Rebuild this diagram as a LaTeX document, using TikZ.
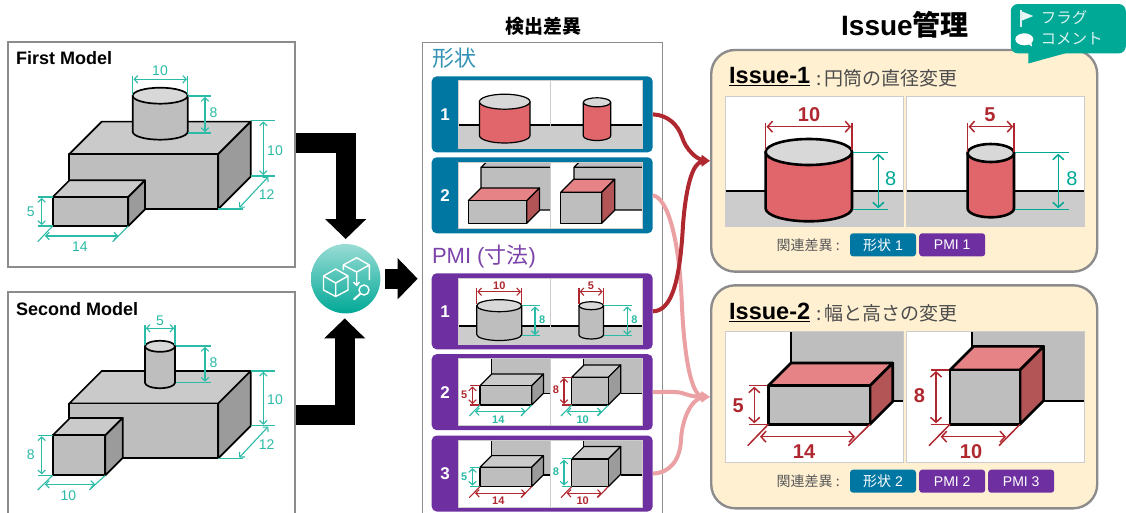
\documentclass[tikz,border=0pt]{standalone}
\usepackage{fontspec}
\setmainfont{Liberation Sans}
\newfontfamily\jp{Noto Sans CJK JP}
\usetikzlibrary{arrows.meta,calc}

\definecolor{shapeblue}{HTML}{0077A3}
\definecolor{pmipurple}{HTML}{6E2FA0}
\definecolor{dimteal}{HTML}{2BBBA6}
\definecolor{darkteal}{HTML}{00A896}
\definecolor{dimred}{HTML}{B0282F}
\definecolor{linkpink}{HTML}{EBA1A4}
\definecolor{cream}{HTML}{FFF0D2}
\definecolor{framegray}{HTML}{8C8C8C}
\definecolor{fronta}{HTML}{BEBEBE}
\definecolor{topa}{HTML}{CACACA}
\definecolor{sidea}{HTML}{9B9B9B}
\definecolor{capa}{HTML}{D8D8D8}
\definecolor{floora}{HTML}{CCCCCC}
\definecolor{redbody}{HTML}{E0666B}
\definecolor{redtop}{HTML}{E58386}
\definecolor{redside}{HTML}{B35456}

\newcommand{\fsz}[1]{\fontsize{#1}{#1}\selectfont}

\tikzset{
  part/.style={draw=black,line width=1.7pt,line join=round},
  thinpart/.style={part/.style={draw=black,line width=1.2pt,line join=round}},
  fatpart/.style={part/.style={draw=black,line width=2.6pt,line join=round}},
  dimline/.style={draw=#1,line width=1.1pt,>={Straight Barb[length=3.5pt,width=7.5pt]}},
  fatdim/.style={draw=#1,line width=1.5pt,>={Straight Barb[length=5pt,width=11pt]}},
  modelbox/.style={draw=framegray,line width=1.3pt,fill=white,minimum width=287pt,inner sep=0pt},
  rowbox/.style={rounded corners=5pt,minimum width=221pt,minimum height=76pt,inner sep=0pt},
  issuebox/.style={draw=framegray,line width=2.4pt,fill=cream,rounded corners=24pt,minimum width=386pt,inner sep=0pt},
  tagbox/.style={rounded corners=3pt,minimum width=66pt,minimum height=23pt,inner sep=0pt,text=white,font=\fsz{14}},
  bigarrow/.style={line width=20pt,-{Triangle[width=40pt,length=20pt]}},
  linkdark/.style={draw=dimred,line width=4pt,-{Triangle[width=9pt,length=9pt]}},
  linklight/.style={draw=linkpink,line width=4pt,-{Triangle[width=9pt,length=9pt]}},
  panelline/.style={draw=floora,line width=.8pt}
}

% front rectangle x1 y1 x2 y2, depth, then top / side / front colours
\newcommand{\isoblock}[8]{
  \path[part,fill=#6] (#1,#2) -- ({#1+#5},{#2-#5}) -- ({#3+#5},{#2-#5}) -- (#3,#2) -- cycle;
  \path[part,fill=#7] (#3,#2) -- ({#3+#5},{#2-#5}) -- ({#3+#5},{#4-#5}) -- (#3,#4) -- cycle;
  \path[part,fill=#8] (#1,#2) rectangle (#3,#4);
}
% centre x, half width, top y, bottom y, half height, colour
\newcommand{\cylpart}[6]{
  \path[part,fill=#6] ({#1-#2},#3) -- ({#1-#2},#4) arc [start angle=180,end angle=360,x radius=#2pt,y radius=#5pt] -- ({#1+#2},#3) -- cycle;
  \path[part,fill=capa] (#1,#3) ellipse [x radius=#2pt,y radius=#5pt];
}
\newcommand{\rowpanel}[5]{
  \node[rowbox,fill=#4] (#1) at (542.2,{(#2+#3)/2}) {};
  \node[text=white,font=\bfseries\fsz{17}] (#1num) at (445,{(#2+#3)/2}) {#5};
  \fill[white] (458,{#2+4.7}) rectangle (642.7,{#3-4.7});
}
\newcommand{\rowframe}[2]{
  \draw[panelline] (458,{#1+4.7}) rectangle (642.7,{#2-4.7}) (550,{#1+4.7}) -- (550,{#2-4.7});
}
% the two stepped details of a PMI row, with the colours of height and width
\newcommand{\pmisteps}[3]{
  \fill[fronta] (491.7,358.3) rectangle (550,393.3);
  \fill[fronta] (583.3,358.3) rectangle (642.7,393.3);
  \draw[part] (491.7,358.3) -- (491.7,374) (543.3,393.3) -- (550,393.3);
  \draw[part] (583.3,358.3) -- (583.3,365) (620.7,393.3) -- (642.7,393.3);
  \isoblock{480}{385.7}{531.7}{405}{11.7}{topa}{sidea}{fronta}
  \isoblock{571.7}{377.3}{608.3}{405}{12.4}{topa}{sidea}{fronta}
  \draw[dimline=#1] (470,385.7) -- (480,385.7) (470,405) -- (480,405);
  \draw[dimline=#1,<->] (472.5,386.5) -- (472.5,404);
  \node[text=#1,font=\bfseries\fsz{11}] (#3a) at (464.3,395) {5};
  \draw[dimline=#2] (480,405) -- (469.3,416) (531.7,405) -- (521,416);
  \draw[dimline=#2,<->] (475,411.7) -- (525.7,411.7);
  \node[text=#2,font=\bfseries\fsz{11}] (#3b) at (498.3,419.3) {14};
  \draw[dimline=#1] (561.7,377.3) -- (571.7,377.3) (561.7,405) -- (571.7,405);
  \draw[dimline=#1,<->] (564,378) -- (564,404);
  \node[text=#1,font=\bfseries\fsz{11}] (#3c) at (556,390) {8};
  \draw[dimline=#2] (571.7,405) -- (561,416) (608.3,405) -- (597.6,416);
  \draw[dimline=#2,<->] (566.7,411.7) -- (601.7,411.7);
  \node[text=#2,font=\bfseries\fsz{11}] (#3d) at (582.7,419.3) {10};
}

\begin{document}
\begin{tikzpicture}[x=1pt,y=-1pt]
\useasboundingbox (0,0) rectangle (1126,512);

% input models
\node[modelbox,minimum height=225pt] (firstbox) at (151.5,154.5) {};
\node[modelbox,minimum height=225pt] (secondbox) at (151.5,404.5) {};
\node[anchor=west,inner sep=0pt,font=\bfseries\fsz{18}] (firsttitle) at (16,58.5) {First Model};
\node[anchor=west,inner sep=0pt,font=\bfseries\fsz{18}] (secondtitle) at (16,309.5) {Second Model};

\isoblock{69.3}{154}{218.3}{209}{32.4}{topa}{sidea}{fronta}
\isoblock{52.7}{197}{128.3}{226}{16.7}{topa}{sidea}{fronta}
\cylpart{160.2}{27.5}{95.7}{131.7}{8}{fronta}
\draw[dimline=dimteal] (132.7,76) -- (132.7,95) (187.7,76) -- (187.7,95);
\draw[dimline=dimteal,<->] (133.5,79.3) -- (187,79.3);
\node[text=dimteal,font=\fsz{14}] (fdiam) at (160,71) {10};
\draw[dimline=dimteal] (188,96) -- (211,96) (188,133) -- (211,133);
\draw[dimline=dimteal,<->] (205,97) -- (205,132);
\node[text=dimteal,font=\fsz{14}] (fhigh) at (213.5,112.7) {8};
\draw[dimline=dimteal] (250.7,120.7) -- (275,120.7) (250.7,176) -- (275,176);
\draw[dimline=dimteal,<->] (263.3,121.5) -- (263.3,175);
\node[text=dimteal,font=\fsz{14}] (fheight) at (275,150.7) {10};
\draw[dimline=dimteal] (218.3,209) -- (242.7,209);
\draw[dimline=dimteal,<->] (268.3,176.7) -- (239.3,207.7);
\node[text=dimteal,font=\fsz{14}] (fdepth) at (266.7,195) {12};
\draw[dimline=dimteal] (38,197) -- (52.7,197) (38,226) -- (52.7,226);
\draw[dimline=dimteal,<->] (41.7,198) -- (41.7,225);
\node[text=dimteal,font=\fsz{14}] (fstep) at (30.7,211.7) {5};
\draw[dimline=dimteal] (52.7,226) -- (37.7,241.7) (128.3,226) -- (112.7,241.7);
\draw[dimline=dimteal,<->] (45,236) -- (118.3,236);
\node[text=dimteal,font=\fsz{14}] (fwide) at (80,246.7) {14};

\isoblock{69.3}{403.4}{218.3}{458.3}{32.4}{topa}{sidea}{fronta}
\isoblock{52.7}{435.3}{105.3}{475.3}{17.4}{topa}{sidea}{fronta}
\cylpart{160}{15}{346.3}{382.7}{5.5}{fronta}
\draw[dimline=dimteal] (145,325) -- (145,345) (175,325) -- (175,345);
\draw[dimline=dimteal,<->] (145.8,328.3) -- (174.2,328.3);
\node[text=dimteal,font=\fsz{14}] (sdiam) at (160,321) {5};
\draw[dimline=dimteal] (175.5,346) -- (211,346) (175.5,382.7) -- (211,382.7);
\draw[dimline=dimteal,<->] (205,347) -- (205,381.7);
\node[text=dimteal,font=\fsz{14}] (shigh) at (213.5,362.3) {8};
\draw[dimline=dimteal] (250.7,371) -- (275,371) (250.7,425.7) -- (275,425.7);
\draw[dimline=dimteal,<->] (263.3,371.8) -- (263.3,424.7);
\node[text=dimteal,font=\fsz{14}] (sheight) at (275,400) {10};
\draw[dimline=dimteal] (218.3,458.3) -- (242.7,458.3);
\draw[dimline=dimteal,<->] (268.3,426.5) -- (239.3,457.5);
\node[text=dimteal,font=\fsz{14}] (sdepth) at (266.7,445) {12};
\draw[dimline=dimteal] (38,435.3) -- (52.7,435.3) (38,475.3) -- (52.7,475.3);
\draw[dimline=dimteal,<->] (41.7,436.3) -- (41.7,474.3);
\node[text=dimteal,font=\fsz{14}] (sstep) at (30.7,454.3) {8};
\draw[dimline=dimteal] (52.7,475.3) -- (37.7,490) (105.3,475.3) -- (89.3,490);
\draw[dimline=dimteal,<->] (45,484.3) -- (95,484.3);
\node[text=dimteal,font=\fsz{14}] (swide) at (68.3,495.7) {10};

% compare icon
\node[circle,minimum size=69.4pt,inner sep=0pt,outer sep=5pt,top color=darkteal!40!white,middle color=darkteal,bottom color=darkteal] (compare) at (345.7,278.7) {};
\draw[white,line width=1.4pt,line join=round] (335.7,269) -- (348,276) -- (348,290) -- (335.7,296.5) -- (323.5,290) -- (323.5,276) -- cycle
  (323.5,276) -- (335.7,283) -- (348,276) (335.7,283) -- (335.7,296.5);
\draw[white,line width=1.4pt,line join=round] (343.3,265) -- (356.7,257.7) -- (369.3,265) -- (356.7,272) -- cycle
  (343.3,265) -- (343.3,270) (369.3,265) -- (369.3,280) (356.7,272) -- (356.7,285) (353.5,282) -- (356.7,285.5) -- (359.5,282);
\draw[white,line width=1.4pt] (364,290) circle (5pt);
\draw[white,line width=2pt,line cap=round] (360.3,293.7) -- (354,299.3);

% middle column
\node[modelbox,minimum width=239.6pt,minimum height=478pt] (diffbox) at (542.5,281.3) {};
\node[font=\bfseries\jp\fsz{19}] (difftitle) at (543,26) {検出差異};
\draw[bigarrow] (firstbox.east |- 0,142.5) -| (compare.north);
\draw[bigarrow] (secondbox.east |- 0,415) -| ([xshift=-1pt]compare.south);
\draw[bigarrow,shorten >=4.4pt] (compare.east) -- (compare.east -| diffbox.west);

\node[anchor=west,text=shapeblue!80!white,font=\jp\fsz{22}] (shapelabel) at (428.5,58) {形状};
\node[anchor=west,text=pmipurple!90!white,font=\fsz{22}] (pmilabel) at (428.5,256.5) {PMI ({\jp 寸法})};

\rowpanel{shapeone}{76}{152.7}{shapeblue}{1}
\fill[floora] (458,125) rectangle (642.7,148);
\draw[part] (458,125) -- (642.7,125);
\begin{scope}[thinpart]
\cylpart{504.7}{25.3}{101.7}{135.5}{7.5}{redbody}
\cylpart{597}{13.7}{102.3}{136}{4.5}{redbody}
\end{scope}
\rowframe{76}{152.7}

\rowpanel{shapetwo}{157.3}{233.3}{shapeblue}{2}
\fill[fronta] (486.7,162) -- (481,167.3) -- (481,210) -- (550,210) -- (550,162) -- cycle;
\fill[fronta] (579.3,162) -- (574,167.3) -- (574,210) -- (642.7,210) -- (642.7,162) -- cycle;
\begin{scope}[thinpart]
\draw[part] (486.7,162) -- (481,167.3) -- (481,195) (481,167.3) -- (550,167.3) (535,210) -- (550,210);
\draw[part] (579.3,162) -- (574,167.3) -- (574,185) (574,167.3) -- (642.7,167.3) (610,210) -- (642.7,210);
\isoblock{468.3}{200.7}{526.7}{223.3}{12.7}{redtop}{redside}{fronta}
\isoblock{560.7}{192.3}{601.7}{223.3}{13}{redtop}{redside}{fronta}
\end{scope}
\rowframe{157.3}{233.3}

\rowpanel{pmione}{273.3}{349.3}{pmipurple}{1}
\fill[floora] (458,326) rectangle (642.7,345);
\draw[line width=1.2pt] (458,326) -- (642.7,326);
\begin{scope}[thinpart]
\cylpart{499.2}{22.5}{305.7}{334.5}{6}{fronta}
\cylpart{591.2}{12.2}{305.7}{335}{4}{fronta}
\end{scope}
\draw[dimline=dimred] (476.7,288) -- (476.7,304) (521.7,288) -- (521.7,304);
\draw[dimline=dimred,<->] (477.3,291.7) -- (521,291.7);
\node[text=dimred,font=\bfseries\fsz{11}] (pmidiama) at (499.3,286) {10};
\draw[dimline=dimred] (579,288) -- (579,304) (603.3,288) -- (603.3,304);
\draw[dimline=dimred,<->] (579.6,291.7) -- (602.7,291.7);
\node[text=dimred,font=\bfseries\fsz{11}] (pmidiamb) at (591,286) {5};
\draw[dimline=dimteal] (522,305.7) -- (540,305.7) (522,335.7) -- (540,335.7);
\draw[dimline=dimteal,<->] (535,306.5) -- (535,335);
\node[text=dimteal,font=\bfseries\fsz{11}] (pmihigha) at (542.3,319.3) {8};
\draw[dimline=dimteal] (603.5,305.7) -- (632.3,305.7) (603.5,335.7) -- (632.3,335.7);
\draw[dimline=dimteal,<->] (627.3,306.5) -- (627.3,335);
\node[text=dimteal,font=\bfseries\fsz{11}] (pmihighb) at (634.3,319.3) {8};
\rowframe{273.3}{349.3}

\rowpanel{pmitwo}{354}{430.3}{pmipurple}{2}
\begin{scope}[thinpart]
\pmisteps{dimred}{dimteal}{rowtwo}
\end{scope}
\rowframe{354}{430.3}

\rowpanel{pmithree}{435.3}{511.7}{pmipurple}{3}
\begin{scope}[thinpart,shift={(0,81.6)}]
\pmisteps{dimteal}{dimred}{rowthree}
\end{scope}
\rowframe{435.3}{511.7}

% right column
\node[font=\bfseries\fsz{28}] (issuetitle) at (905,25) {Issue{\jp 管理}};
\node[issuebox,minimum height=221.7pt] (issueone) at (904.2,160.8) {};
\node[issuebox,minimum height=223pt] (issuetwo) at (904.2,396.8) {};

\draw[linkdark] (shapeone.east) .. controls (668,115) and (678,125) .. (682,137) .. controls (686,150) and (697,159) .. (issueone.west);
\draw[linklight] (shapetwo.east) .. controls (668,198) and (679,240) .. (681.7,300) .. controls (684,360) and (692,395) .. (issuetwo.west);
\draw[linkdark] (pmione.east) .. controls (672,311) and (680,280) .. (683,225) .. controls (686,185) and (693,163) .. (issueone.west);
\draw[linklight] (pmitwo.east) .. controls (668,392) and (678,391) .. (685,394) .. controls (692,396.5) and (700,397) .. (issuetwo.west);
\draw[linklight] (pmithree.east) .. controls (670,473) and (680,460) .. (681,440) .. controls (682,418) and (692,399) .. (issuetwo.west);

\node[rectangle,rounded corners=7pt,fill=darkteal,minimum width=115pt,minimum height=49.3pt,inner sep=0pt] (flagbox) at (1068.3,28.7) {};
\fill[darkteal] (1028.3,50) -- (1028.3,63.5) -- (1070,52) -- (1070,50) -- cycle;
\draw[white!85!darkteal,line width=1.1pt] (1021,10) -- (1021,27.3);
\fill[white!90!darkteal] (1022,11.5) -- (1033.3,16) -- (1022,20.5) -- cycle;
\fill[white] (1024.3,39.3) ellipse [x radius=9pt,y radius=6pt];
\fill[white] (1027,43) -- (1032,46.5) -- (1031,40) -- cycle;
\node[text=white!85!darkteal,font=\jp\fsz{15.5}] (flagtext) at (1064,18) {フラグ};
\node[text=white!85!darkteal,font=\jp\fsz{15.5}] (commenttext) at (1071.7,39) {コメント};

\node[anchor=west,inner sep=0pt,font=\bfseries\fsz{23.5}] (issueonename) at (729,77) {\underline{Issue-1}};
\node[anchor=west,inner sep=0pt,text=black!70,font=\jp\fsz{19}] (issueonetext) at (816,78) {:\,円筒の直径変更};
\draw[panelline,fill=white] (725.7,96.7) rectangle (903.3,226.7);
\draw[panelline,fill=white] (906.7,96.7) rectangle (1084.3,226.7);
\fill[floora] (725.7,191.3) rectangle (903.3,226.7) (906.7,191.3) rectangle (1084.3,226.7);
\begin{scope}[fatpart]
\draw[part,line width=2pt] (725.7,191.3) -- (903.3,191.3) (906.7,191.3) -- (1084.3,191.3);
\cylpart{808.8}{43.2}{152}{208.3}{13}{redbody}
\cylpart{990.8}{23.2}{153}{208.3}{9}{redbody}
\end{scope}
\draw[fatdim=dimred] (765.7,123) -- (765.7,150) (852,123) -- (852,150);
\draw[fatdim=dimred,<->] (766.5,126.7) -- (851.2,126.7);
\node[text=dimred,font=\bfseries\fsz{20}] (bigdiama) at (809,115) {10};
\draw[fatdim=dimred] (967.7,123) -- (967.7,152) (1014,123) -- (1014,152);
\draw[fatdim=dimred,<->] (968.5,126.7) -- (1013.2,126.7);
\node[text=dimred,font=\bfseries\fsz{20}] (bigdiamb) at (990,115) {5};
\draw[fatdim=darkteal] (853,152.7) -- (888.3,152.7) (853,209.3) -- (888.3,209.3);
\draw[fatdim=darkteal,<->] (878.3,153.7) -- (878.3,208.3);
\node[text=darkteal,font=\fsz{20}] (bighigha) at (890.7,178.3) {8};
\draw[fatdim=darkteal] (1015,152.7) -- (1069.3,152.7) (1015,209.3) -- (1069.3,209.3);
\draw[fatdim=darkteal,<->] (1058.3,153.7) -- (1058.3,208.3);
\node[text=darkteal,font=\fsz{20}] (bighighb) at (1072,178.3) {8};
\node[anchor=west,inner sep=0pt,text=black!65,font=\jp\fsz{14}] (relatedone) at (776.5,245) {関連差異 :};
\node[tagbox,fill=shapeblue] (tagshapeone) at (883,244.8) {{\jp 形状} 1};
\node[tagbox,fill=pmipurple] (tagpmione) at (952.2,244.8) {PMI 1};

\node[anchor=west,inner sep=0pt,font=\bfseries\fsz{23.5}] (issuetwoname) at (729,312.5) {\underline{Issue-2}};
\node[anchor=west,inner sep=0pt,text=black!70,font=\jp\fsz{19}] (issuetwotext) at (816,313.5) {:\,幅と高さの変更};
\draw[panelline,fill=white] (725.7,331.7) rectangle (903.3,462.3);
\draw[panelline,fill=white] (906.7,331.7) rectangle (1084.3,462.3);
\fill[fronta] (790.7,332) rectangle (903.3,401) (972.3,332) rectangle (1084.3,401);
\begin{scope}[fatpart]
\draw[part,line width=2pt] (790.7,332) -- (790.7,362.7) (892.7,401) -- (903.3,401);
\draw[part,line width=2pt] (972.3,332) -- (972.3,346.7) (1044,401) -- (1084.3,401);
\isoblock{768.3}{385.7}{870}{424.3}{22.7}{redtop}{redside}{fronta}
\isoblock{950}{370}{1020}{424.3}{23.6}{redtop}{redside}{fronta}
\end{scope}
\draw[fatdim=dimred] (749,385.7) -- (767,385.7) (749,424.3) -- (767,424.3);
\draw[fatdim=dimred,<->] (754.3,386.7) -- (754.3,423.3);
\node[text=dimred,font=\bfseries\fsz{20}] (bigstepa) at (738.3,405.7) {5};
\draw[fatdim=dimred] (768.3,424.3) -- (747.7,445.7) (870,424.3) -- (848.3,445.7);
\draw[fatdim=dimred,<->] (760,436.7) -- (855,436.7);
\node[text=dimred,font=\bfseries\fsz{20}] (bigwidea) at (804,451.7) {14};
\draw[fatdim=dimred] (930.7,370) -- (949,370) (930.7,424.3) -- (949,424.3);
\draw[fatdim=dimred,<->] (936,371) -- (936,423.3);
\node[text=dimred,font=\bfseries\fsz{20}] (bigstepb) at (919.3,395.7) {8};
\draw[fatdim=dimred] (950,424.3) -- (929,445.7) (1020,424.3) -- (999,445.7);
\draw[fatdim=dimred,<->] (940.7,436.7) -- (1006,436.7);
\node[text=dimred,font=\bfseries\fsz{20}] (bigwideb) at (971,451.7) {10};
\node[anchor=west,inner sep=0pt,text=black!65,font=\jp\fsz{14}] (relatedtwo) at (776.5,481) {関連差異 :};
\node[tagbox,fill=shapeblue] (tagshapetwo) at (883,481.2) {{\jp 形状} 2};
\node[tagbox,fill=pmipurple] (tagpmitwo) at (952.2,481.2) {PMI 2};
\node[tagbox,fill=pmipurple] (tagpmithree) at (1021.2,481.2) {PMI 3};
\end{tikzpicture}
\end{document}
